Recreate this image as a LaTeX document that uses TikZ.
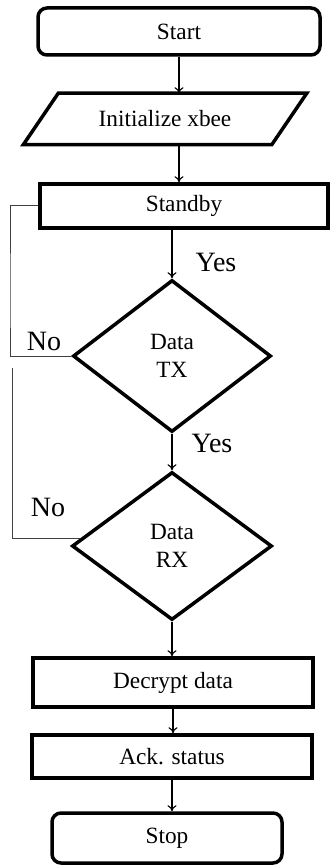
\documentclass[tikz,border=0pt]{standalone}
\usepackage{fontspec}
\setmainfont{Liberation Serif}
\usetikzlibrary{shapes.geometric,arrows.meta,calc}

\begin{document}
\begin{tikzpicture}[x=1pt,y=-1pt,
  base/.style={draw=black,line width=3.5pt,inner sep=0pt,align=center,
    font=\fontsize{23.3}{28}\selectfont},
  proc/.style={base,rectangle},
  term/.style={base,rectangle,rounded corners=9pt},
  decision/.style={base,diamond},
  arr/.style={line width=1.1pt,-{To[length=6pt,width=9pt]}},
  back/.style={line width=1pt,draw=black!75},
  lbl/.style={inner sep=0pt,font=\fontsize{28}{30}\selectfont}]
\useasboundingbox (0,0) rectangle (331,866);

% main flow
\node[term,minimum width=282pt,minimum height=47pt] (start) at (179,31.5) {Start};
\node[base,draw=none,minimum width=210pt,minimum height=48pt] (init) at (165,119) {Initialize xbee};
\draw[line width=3.5pt,line join=miter]
  (init.north west) -- ($(init.north east)+(35,0)$) -- (init.south east)
  -- ($(init.south west)+(-35,0)$) -- cycle;
\node[proc,minimum width=288pt,minimum height=44pt] (standby) at (184,206) {\raisebox{-4pt}{Standby}};
\node[decision,minimum width=198pt,minimum height=152pt] (tx) at (172,356) {Data\\TX};
\node[decision,minimum width=200pt,minimum height=148pt] (rx) at (172,546) {Data\\RX};
\node[proc,minimum width=280pt,minimum height=49pt] (decrypt) at (173,682.5) {Decrypt data};
\node[proc,minimum width=280pt,minimum height=43pt] (ack) at (172,756.5) {Ack. status};
\node[term,minimum width=230pt,minimum height=50pt] (stop) at (167,838) {Stop};

% branch labels
\node[lbl] (yes1) at (216,262) {Yes};
\node[lbl] (no1) at (44,341) {No};
\node[lbl] (yes2) at (212,443) {Yes};
\node[lbl] (no2) at (48,507) {No};

% connectors
\draw[arr] (start.south) -- (start.south |- init.north);
\draw[arr] (init.south -| start.south) -- (standby.north -| start.south);
\draw[arr] (standby.south -| tx.north) -- (tx.north);
\draw[arr] (tx.south) -- (rx.north);
\draw[arr] (rx.south) -- (decrypt.north -| rx.south);
\draw[arr] (decrypt.south) -- (ack.north -| decrypt.south);
\draw[arr] (ack.south) -- (stop.north -| ack.south);

% "No" return paths
\coordinate (loopA) at (10,300);
\draw[back] (standby.west) -| (loopA) |- (tx.west);
\coordinate (loopB) at (12,368);
\coordinate (rxin) at ($(rx.west)!0.1!(rx.north)$);
\draw[back] (rxin) -| (loopB);
\end{tikzpicture}
\end{document}
